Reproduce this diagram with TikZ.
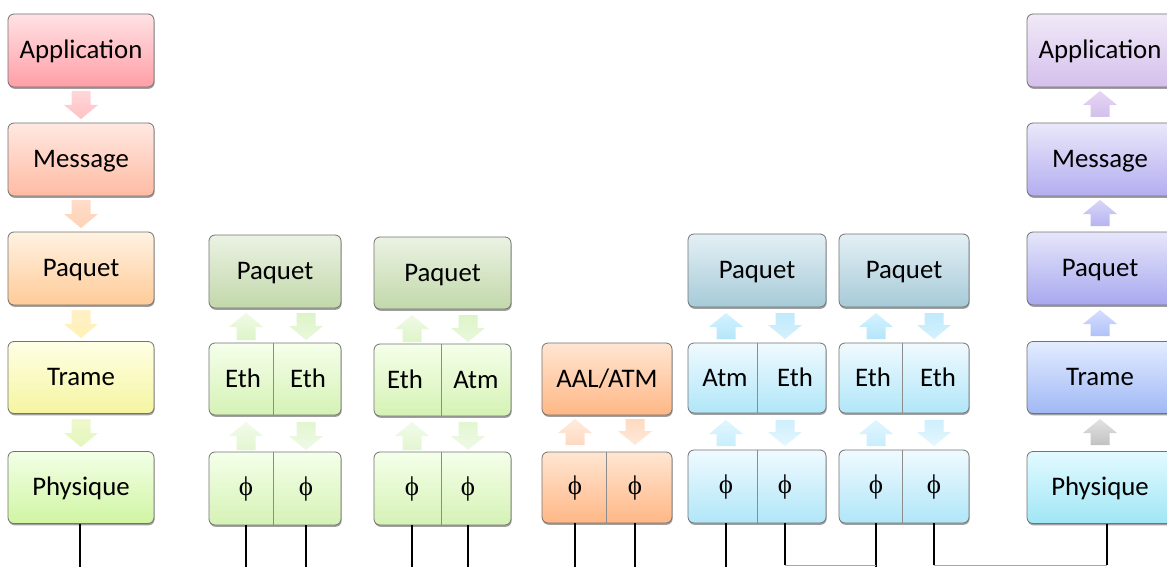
\documentclass[tikz,border=0pt]{standalone}
\usepackage{fontspec}
\setmainfont{Carlito}
\newfontfamily\phifont{Liberation Serif}
\usetikzlibrary{shadows}
% colours
\definecolor{laT}{HTML}{FFE2E5}\definecolor{laB}{HTML}{FF9EA6}
\definecolor{lmT}{HTML}{FFE8E2}\definecolor{lmB}{HTML}{FFBBA3}
\definecolor{lpT}{HTML}{FFF2E2}\definecolor{lpB}{HTML}{FFCB98}
\definecolor{ltT}{HTML}{FFFFE6}\definecolor{ltB}{HTML}{F5F5A0}
\definecolor{lhT}{HTML}{F2FFE6}\definecolor{lhB}{HTML}{D0F5A3}
\definecolor{raT}{HTML}{F0EAF8}\definecolor{raB}{HTML}{D5BFEC}
\definecolor{rmT}{HTML}{EAE8FA}\definecolor{rmB}{HTML}{B3ADF0}
\definecolor{rpT}{HTML}{E6E6FA}\definecolor{rpB}{HTML}{A8A8F0}
\definecolor{rtT}{HTML}{E3ECFF}\definecolor{rtB}{HTML}{A0B8F5}
\definecolor{rhT}{HTML}{E3FAFF}\definecolor{rhB}{HTML}{A0E6F5}
\definecolor{gpT}{HTML}{EBF2E3}\definecolor{gpB}{HTML}{C2D8AA}
\definecolor{gcT}{HTML}{F5FFEA}\definecolor{gcB}{HTML}{D5F2B5}
\definecolor{ocT}{HTML}{FFE6D2}\definecolor{ocB}{HTML}{FFB786}
\definecolor{bpT}{HTML}{E4F0F5}\definecolor{bpB}{HTML}{A6CAD8}
\definecolor{bcT}{HTML}{F0FAFF}\definecolor{bcB}{HTML}{B0E6F8}
\newcommand\blkdown[5]{% x, ytop, ybot, top colour, bottom colour (HTML)
  \definecolor{arrT}{HTML}{#4}\definecolor{arrB}{HTML}{#5}%
  \shade[top color=arrT,bottom color=arrB] (#1-9.5,#2) -- (#1+9.5,#2) -- (#1+9.5,#3-14) -- (#1+17,#3-14) -- (#1,#3) -- (#1-17,#3-14) -- (#1-9.5,#3-14) -- cycle;}
\newcommand\blkup[5]{% x, ytop, ybot, top colour, bottom colour (HTML)
  \definecolor{arrT}{HTML}{#4}\definecolor{arrB}{HTML}{#5}%
  \shade[top color=arrT,bottom color=arrB] (#1,#2) -- (#1+17,#2+14) -- (#1+9.5,#2+14) -- (#1+9.5,#3) -- (#1-9.5,#3) -- (#1-9.5,#2+14) -- (#1-17,#2+14) -- cycle;}
\tikzset{
  box/.style={draw=black!55, line width=0.8pt, rounded corners=6pt, inner sep=0pt,
    font=\fontsize{26.8}{30}\selectfont, text height=16pt, text depth=0pt,
    drop shadow={shadow xshift=0.6pt, shadow yshift=-1.8pt, opacity=0.5, fill=black!75}},
  lbl/.style={inner sep=0pt, font=\fontsize{26.8}{30}\selectfont, text height=16pt, text depth=0pt},
  philbl/.style={inner sep=0pt, anchor=base, font=\phifont\fontsize{27}{30}\selectfont},
  wire/.style={line width=1.4pt, black},
  link/.style={line width=0.8pt, black!35},
  divider/.style={line width=1pt, black!45},
}
\begin{document}
\begin{tikzpicture}[x=1pt,y=-1pt]
\useasboundingbox (0,0) rectangle (1167,567);
\fill[white] (0,0) rectangle (1167,567);

% ---------- left column ----------
\node[box, top color=laT, bottom color=laB, minimum width=146pt, minimum height=73pt] (LA) at (81,50.5) {Application};
\node[box, top color=lmT, bottom color=lmB, minimum width=146pt, minimum height=73pt] (LM) at (81,159.5) {Message};
\node[box, top color=lpT, bottom color=lpB, minimum width=146pt, minimum height=73pt] (LP) at (81,268.5) {Paquet};
\node[box, top color=ltT, bottom color=ltB, minimum width=146pt, minimum height=72pt] (LT) at (81,377.5) {Trame};
\node[box, top color=lhT, bottom color=lhB, minimum width=146pt, minimum height=72pt] (LH) at (81,487.5) {Physique};
\blkdown{81}{91}{119}{FFD6DA}{FFC2C2}
\blkdown{81}{200}{228}{FFDCCB}{FFD2B4}
\blkdown{81}{310}{338}{FFF0C8}{FFF2B4}
\blkdown{81}{419}{447}{F0F8CC}{E2F6BC}
\coordinate (LHe) at (80,567);
\draw[wire] (LH.south -| LHe) -- (LHe);

% ---------- green router 1 ----------
\node[box, top color=gpT, bottom color=gpB, minimum width=132pt, minimum height=73pt] (G1P) at (275,271.5) {Paquet};
\node[box, top color=gcT, bottom color=gcB, minimum width=132pt, minimum height=72pt] (G1M) at (275,379) {};
\node[box, top color=gcT, bottom color=gcB, minimum width=132pt, minimum height=73pt] (G1B) at (275,488.5) {};
\draw[divider] (G1M.north -| 273,0) -- (G1M.south -| 273,0);
\draw[divider] (G1B.north -| 273,0) -- (G1B.south -| 273,0);
\node[lbl] (G1Ml) at (243,379) {Eth};
\node[lbl] (G1Mr) at (308,379) {Eth};
\node[philbl] (G1Bl) at (246,495.5) {ϕ};
\node[philbl] (G1Br) at (306,495.5) {ϕ};
\blkup{246}{313}{340}{F0FAE6}{DDF4C8}
\blkdown{306}{313}{340}{DDF4C8}{EAF8DC}
\blkup{246}{422}{450}{F2FBEA}{E2F6D0}
\blkdown{306}{422}{450}{E2F6D0}{F0FAE8}
\coordinate (G1l) at (246,567);
\coordinate (G1r) at (306,567);
\draw[wire] (G1B.south -| G1l) -- (G1l);
\draw[wire] (G1B.south -| G1r) -- (G1r);

% ---------- green router 2 ----------
\node[box, top color=gpT, bottom color=gpB, minimum width=137pt, minimum height=72pt] (G2P) at (442.5,273) {Paquet};
\node[box, top color=gcT, bottom color=gcB, minimum width=137pt, minimum height=72pt] (G2M) at (442.5,380) {};
\node[box, top color=gcT, bottom color=gcB, minimum width=137pt, minimum height=73pt] (G2B) at (442.5,488.5) {};
\draw[divider] (G2M.north -| 441,0) -- (G2M.south -| 441,0);
\draw[divider] (G2B.north -| 441,0) -- (G2B.south -| 441,0);
\node[lbl] (G2Ml) at (405,380) {Eth};
\node[lbl] (G2Mr) at (476,380) {Atm};
\node[philbl] (G2Bl) at (412,495.5) {ϕ};
\node[philbl] (G2Br) at (468,495.5) {ϕ};
\blkup{412}{315}{342}{F0FAE6}{DDF4C8}
\blkdown{468}{315}{342}{DDF4C8}{EAF8DC}
\blkup{412}{422}{450}{F2FBEA}{E2F6D0}
\blkdown{468}{422}{450}{E2F6D0}{F0FAE8}
\coordinate (G2l) at (412,567);
\coordinate (G2r) at (468,567);
\draw[wire] (G2B.south -| G2l) -- (G2l);
\draw[wire] (G2B.south -| G2r) -- (G2r);

% ---------- orange ATM switch ----------
\node[box, top color=ocT, bottom color=ocB, minimum width=130pt, minimum height=72pt] (OM) at (607,379) {AAL/ATM};
\node[box, top color=ocT, bottom color=ocB, minimum width=130pt, minimum height=71pt] (OB) at (607,487.5) {};
\draw[divider] (OB.north -| 606,0) -- (OB.south -| 606,0);
\node[philbl] (OBl) at (575,494.5) {ϕ};
\node[philbl] (OBr) at (635,494.5) {ϕ};
\blkup{575}{419}{445}{FFEBDD}{FFD9C0}
\blkdown{635}{419}{445}{FFD9C0}{FFEADC}
\coordinate (Ol) at (575,567);
\coordinate (Or) at (635,567);
\draw[wire] (OB.south -| Ol) -- (Ol);
\draw[wire] (OB.south -| Or) -- (Or);

% ---------- blue router 1 ----------
\node[box, top color=bpT, bottom color=bpB, minimum width=138pt, minimum height=73pt] (B1P) at (757,270.5) {Paquet};
\node[box, top color=bcT, bottom color=bcB, minimum width=138pt, minimum height=70pt] (B1M) at (757,378) {};
\node[box, top color=bcT, bottom color=bcB, minimum width=138pt, minimum height=73pt] (B1B) at (757,486.5) {};
\draw[divider] (B1M.north -| 757,0) -- (B1M.south -| 757,0);
\draw[divider] (B1B.north -| 757,0) -- (B1B.south -| 757,0);
\node[lbl] (B1Ml) at (725,378) {Atm};
\node[lbl] (B1Mr) at (795,378) {Eth};
\node[philbl] (B1Bl) at (726,493.5) {ϕ};
\node[philbl] (B1Br) at (785,493.5) {ϕ};
\blkup{726}{313}{339}{D4F2FF}{B4E6FA}
\blkdown{785}{313}{339}{C0EAFB}{D4F1FD}
\blkup{726}{420}{446}{E0F6FF}{C8EEFC}
\blkdown{785}{420}{446}{CDEFFC}{E6F7FE}
\coordinate (B1l) at (726,567);
\coordinate (B1r) at (785,565);
\draw[wire] (B1B.south -| B1l) -- (B1l);
\draw[wire] (B1B.south -| B1r) -- (B1r);

% ---------- blue router 2 ----------
\node[box, top color=bpT, bottom color=bpB, minimum width=130pt, minimum height=73pt] (B2P) at (904,270.5) {Paquet};
\node[box, top color=bcT, bottom color=bcB, minimum width=130pt, minimum height=70pt] (B2M) at (904,378) {};
\node[box, top color=bcT, bottom color=bcB, minimum width=130pt, minimum height=73pt] (B2B) at (904,486.5) {};
\draw[divider] (B2M.north -| 902,0) -- (B2M.south -| 902,0);
\draw[divider] (B2B.north -| 902,0) -- (B2B.south -| 902,0);
\node[lbl] (B2Ml) at (873,378) {Eth};
\node[lbl] (B2Mr) at (938,378) {Eth};
\node[philbl] (B2Bl) at (876,493.5) {ϕ};
\node[philbl] (B2Br) at (934,493.5) {ϕ};
\blkup{876}{313}{339}{D4F2FF}{B4E6FA}
\blkdown{934}{313}{339}{C0EAFB}{D4F1FD}
\blkup{876}{420}{446}{E0F6FF}{C8EEFC}
\blkdown{934}{420}{446}{CDEFFC}{E6F7FE}
\coordinate (B2l) at (876,567);
\coordinate (B2r) at (934,565);
\coordinate (B2lj) at (876,565);
\draw[wire] (B2B.south -| B2l) -- (B2l);
\draw[wire] (B2B.south -| B2r) -- (B2r);

% ---------- right column ----------
\node[box, top color=raT, bottom color=raB, minimum width=146pt, minimum height=73pt] (RA) at (1100,50.5) {Application};
\node[box, top color=rmT, bottom color=rmB, minimum width=146pt, minimum height=73pt] (RM) at (1100,159.5) {Message};
\node[box, top color=rpT, bottom color=rpB, minimum width=146pt, minimum height=73pt] (RP) at (1100,268.5) {Paquet};
\node[box, top color=rtT, bottom color=rtB, minimum width=146pt, minimum height=72pt] (RT) at (1100,377.5) {Trame};
\node[box, top color=rhT, bottom color=rhB, minimum width=146pt, minimum height=72pt] (RH) at (1100,487.5) {Physique};
\blkup{1100}{91}{117}{E6D6F4}{D2BFEC}
\blkup{1100}{200}{226}{D8D6F8}{B6B4F2}
\blkup{1100}{310}{336}{D6DEFF}{B0C2F8}
\blkup{1100}{419}{445}{E2E2E2}{C2C2C2}
\coordinate (RHe) at (1107,565);
\draw[wire] (RH.south -| RHe) -- (RHe);

% ---------- links ----------
\draw[link] (B1r) -- (B2lj);
\draw[link] (B2r) -- (RHe);
\end{tikzpicture}
\end{document}
